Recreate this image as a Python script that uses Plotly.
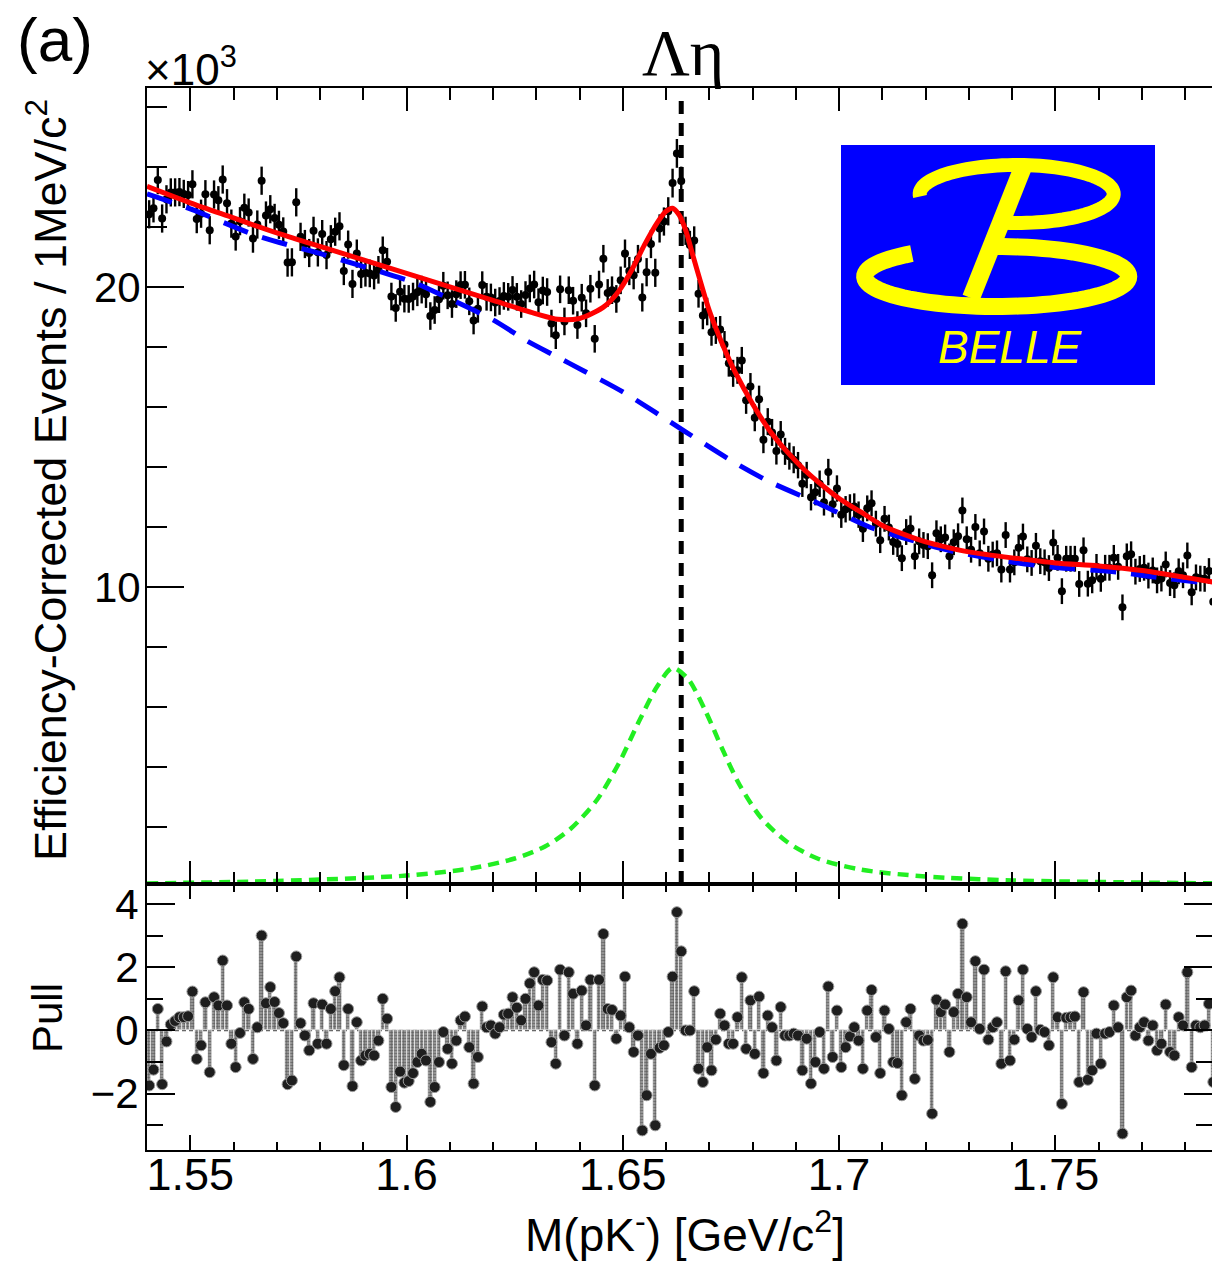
import numpy as np
import plotly.graph_objects as go

# ---------------- data ----------------
BIN_LO = 1.540      # GeV/c^2, lower edge of first bin
BIN_W = 0.001       # 1 MeV/c^2 bins

# efficiency-corrected events per bin, in units of 10^3
DATA = [
    22.42, 22.62, 23.56, 22.28, 22.92, 23.15, 23.15, 23.16, 23.10, 23.06,
    23.42, 22.26, 22.44, 23.09, 21.89, 23.08, 22.89, 23.58, 22.79, 22.11,
    21.68, 22.19, 22.64, 22.48, 21.61, 22.08, 23.54, 22.38, 22.59, 22.30,
    22.07, 21.85, 20.81, 20.82, 22.82, 21.67, 21.43, 21.13, 21.87, 21.15,
    21.76, 21.06, 21.59, 21.84, 22.02, 20.53, 21.41, 20.10, 21.11, 20.43,
    20.47, 20.45, 20.38, 20.57, 21.22, 20.84, 19.68, 19.30, 19.84, 19.61,
    19.60, 19.68, 19.82, 19.91, 19.76, 19.03, 19.23, 19.59, 20.04, 19.72,
    19.43, 19.76, 20.06, 20.07, 19.52, 18.88, 19.27, 20.06, 19.67, 19.65,
    19.48, 19.53, 19.70, 19.67, 19.90, 19.67, 19.43, 19.73, 19.95, 20.08,
    19.49, 19.88, 19.83, 18.78, 18.39, 19.92, 18.85, 19.89, 19.54, 18.73,
    19.64, 19.12, 19.94, 18.27, 20.08, 20.94, 19.80, 19.89, 19.60, 20.22,
    21.11, 20.53, 20.39, 20.93, 19.65, 20.49, 21.43, 20.47, 21.95, 22.18,
    22.52, 23.46, 24.45, 23.53, 21.87, 21.40, 21.55, 19.77, 19.05, 19.18,
    18.49, 18.55, 18.58, 18.08, 17.46, 17.12, 17.22, 17.55, 16.22, 16.68,
    15.64, 16.26, 14.91, 15.51, 15.15, 14.53, 15.08, 14.52, 14.36, 14.24,
    14.06, 13.44, 13.73, 12.99, 13.16, 13.44, 12.82, 13.83, 12.76, 13.28,
    12.41, 12.59, 12.65, 12.68, 12.41, 11.94, 12.62, 12.79, 12.11, 11.56,
    12.27, 11.98, 11.50, 11.43, 10.96, 11.83, 11.95, 11.02, 11.52, 11.40,
    11.36, 10.39, 11.79, 11.59, 11.65, 11.02, 11.49, 11.69, 12.55, 11.59,
    11.24, 12.00, 11.12, 11.85, 10.94, 11.08, 11.12, 10.58, 11.73, 10.58,
    10.82, 11.31, 11.68, 10.92, 10.80, 11.37, 10.86, 10.82, 10.63, 11.48,
    10.97, 9.86, 10.94, 10.94, 10.94, 10.10, 11.22, 10.11, 10.22, 10.67,
    10.27, 10.64, 10.64, 10.97, 10.67, 9.32, 11.02, 11.09, 10.51, 10.60,
    10.64, 10.38, 10.55, 10.22, 10.28, 10.75, 10.13, 10.06, 10.52, 10.39,
    11.05, 9.82, 10.32, 10.28, 10.27, 10.53, 9.51,
]

ERR = [
    0.47, 0.47, 0.47, 0.47, 0.47, 0.47, 0.47, 0.47, 0.47, 0.47,
    0.47, 0.47, 0.47, 0.47, 0.47, 0.47, 0.47, 0.47, 0.47, 0.47,
    0.47, 0.47, 0.47, 0.47, 0.47, 0.47, 0.47, 0.47, 0.47, 0.47,
    0.47, 0.47, 0.47, 0.47, 0.47, 0.47, 0.47, 0.47, 0.47, 0.47,
    0.47, 0.47, 0.47, 0.47, 0.47, 0.47, 0.47, 0.47, 0.47, 0.47,
    0.46, 0.46, 0.46, 0.46, 0.46, 0.46, 0.46, 0.46, 0.46, 0.46,
    0.46, 0.46, 0.46, 0.46, 0.46, 0.46, 0.46, 0.46, 0.46, 0.46,
    0.46, 0.46, 0.46, 0.46, 0.46, 0.46, 0.46, 0.46, 0.46, 0.46,
    0.46, 0.46, 0.46, 0.46, 0.46, 0.46, 0.46, 0.46, 0.46, 0.46,
    0.46, 0.46, 0.46, 0.46, 0.46, 0.46, 0.46, 0.46, 0.46, 0.46,
    0.46, 0.46, 0.46, 0.46, 0.46, 0.46, 0.46, 0.46, 0.46, 0.46,
    0.47, 0.47, 0.47, 0.47, 0.47, 0.47, 0.47, 0.47, 0.47, 0.47,
    0.47, 0.48, 0.48, 0.48, 0.47, 0.47, 0.47, 0.46, 0.46, 0.46,
    0.45, 0.45, 0.45, 0.45, 0.45, 0.45, 0.45, 0.45, 0.45, 0.45,
    0.45, 0.45, 0.45, 0.45, 0.45, 0.45, 0.45, 0.45, 0.45, 0.45,
    0.44, 0.44, 0.44, 0.44, 0.44, 0.44, 0.44, 0.44, 0.44, 0.44,
    0.44, 0.44, 0.44, 0.44, 0.44, 0.44, 0.43, 0.43, 0.43, 0.43,
    0.43, 0.43, 0.43, 0.43, 0.43, 0.43, 0.43, 0.43, 0.43, 0.43,
    0.43, 0.43, 0.43, 0.43, 0.43, 0.43, 0.43, 0.43, 0.43, 0.43,
    0.43, 0.43, 0.43, 0.43, 0.43, 0.43, 0.43, 0.43, 0.43, 0.43,
    0.43, 0.43, 0.43, 0.43, 0.43, 0.43, 0.43, 0.43, 0.43, 0.43,
    0.43, 0.43, 0.43, 0.43, 0.43, 0.43, 0.43, 0.43, 0.43, 0.43,
    0.43, 0.43, 0.43, 0.43, 0.43, 0.43, 0.43, 0.43, 0.43, 0.43,
    0.43, 0.43, 0.43, 0.43, 0.43, 0.43, 0.43, 0.43, 0.43, 0.43,
    0.43, 0.43, 0.43, 0.43, 0.43, 0.43, 0.43,
]

PULL = [
    -1.74, -1.24, 0.68, -1.70, -0.35, 0.19, 0.30, 0.42, 0.42, 0.45,
    1.23, -0.90, -0.47, 0.89, -1.32, 1.05, 0.79, 2.21, 0.79, -0.42,
    -1.16, -0.08, 0.89, 0.68, -0.90, 0.10, 3.00, 0.86, 1.37, 0.90,
    0.55, 0.23, -1.70, -1.58, 2.34, 0.23, -0.16, -0.63, 0.86, -0.42,
    0.82, -0.42, 0.68, 1.24, 1.68, -1.10, 0.68, -1.76, 0.26, -0.95,
    -0.79, -0.74, -0.79, -0.32, 1.00, 0.37, -1.79, -2.42, -1.30, -1.65,
    -1.60, -1.35, -1.00, -0.74, -0.95, -2.26, -1.79, -1.00, -0.05, -0.58,
    -1.05, -0.32, 0.32, 0.44, -0.53, -1.68, -0.84, 0.76, 0.10, 0.16,
    -0.10, 0.10, 0.50, 0.53, 1.05, 0.72, 0.32, 1.00, 1.49, 1.84,
    0.79, 1.60, 1.58, -0.37, -1.05, 1.92, -0.16, 1.84, 1.16, -0.42,
    1.26, 0.16, 1.60, -1.74, 1.60, 3.05, 0.68, 0.65, -0.26, 0.47,
    1.70, 0.10, -0.68, -0.16, -3.16, -2.05, -0.74, -3.00, -0.55, -0.47,
    -0.05, 1.70, 3.74, 2.50, 0.00, 0.00, 1.24, -1.21, -1.63, -0.53,
    -1.26, -0.29, 0.53, 0.16, -0.42, -0.42, 0.42, 1.68, -0.58, 0.95,
    -0.74, 1.07, -1.35, 0.47, 0.10, -0.95, 0.74, -0.16, -0.16, -0.10,
    -0.16, -1.26, -0.26, -1.68, -1.00, -0.05, -1.21, 1.39, -0.84, 0.63,
    -1.16, -0.53, -0.19, 0.10, -0.32, -1.21, 0.63, 1.28, -0.21, -1.35,
    0.63, 0.05, -1.00, -1.03, -2.05, 0.26, 0.68, -1.53, -0.16, -0.32,
    -0.30, -2.63, 0.97, 0.58, 0.82, -0.68, 0.58, 1.16, 3.37, 1.05,
    0.26, 2.19, 0.05, 1.92, -0.29, 0.10, 0.26, -1.05, 1.87, -0.95,
    -0.29, 0.95, 1.92, 0.05, -0.21, 1.24, 0.02, -0.05, -0.47, 1.68,
    0.42, -2.32, 0.40, 0.42, 0.44, -1.63, 1.21, -1.56, -1.26, -0.10,
    -1.05, -0.10, -0.05, 0.79, 0.10, -3.26, 1.05, 1.26, -0.16, 0.10,
    0.26, -0.32, 0.16, -0.63, -0.42, 0.82, -0.68, -0.79, 0.42, 0.16,
    1.84, -1.16, 0.16, 0.10, 0.16, 0.84, -1.63,
]

# total fit (red), background (blue dashed), signal (green dashed), x10^3
RED_X = [1.540, 1.550, 1.560, 1.570, 1.580, 1.590, 1.600, 1.610, 1.620, 1.630,
         1.635, 1.640, 1.643, 1.646, 1.649, 1.652, 1.655, 1.658, 1.660, 1.6615,
         1.663, 1.6645, 1.666, 1.668, 1.670, 1.673, 1.676, 1.680, 1.684, 1.688,
         1.692, 1.696, 1.700, 1.705, 1.710, 1.715, 1.720, 1.725, 1.730, 1.740,
         1.750, 1.760, 1.770, 1.780, 1.787]
RED_Y = [23.35, 22.80, 22.30, 21.80, 21.35, 20.90, 20.45, 20.00, 19.55, 19.10,
         18.92, 18.95, 19.12, 19.38, 19.85, 20.55, 21.40, 22.15, 22.52, 22.62,
         22.40, 21.90, 21.15, 20.15, 19.20, 18.10, 17.15, 16.10, 15.20, 14.50,
         13.90, 13.40, 12.95, 12.50, 12.05, 11.75, 11.50, 11.32, 11.17, 10.97,
         10.80, 10.70, 10.55, 10.32, 10.15]

BLUE_X = [1.540, 1.550, 1.565, 1.581, 1.597, 1.602, 1.610, 1.620, 1.6275, 1.634,
          1.641, 1.650, 1.6645, 1.676, 1.684, 1.695, 1.707, 1.715, 1.726, 1.739,
          1.750, 1.764, 1.773, 1.787]
BLUE_Y = [23.10, 22.60, 21.73, 21.07, 20.37, 20.13, 19.60, 18.90, 18.23, 17.73,
          17.20, 16.50, 15.17, 14.13, 13.50, 12.80, 12.00, 11.63, 11.20, 10.85,
          10.65, 10.50, 10.33, 10.10]

GREEN_X = [1.540, 1.570, 1.600, 1.615, 1.625, 1.632, 1.638, 1.644, 1.649, 1.654,
           1.658, 1.6615, 1.665, 1.669, 1.673, 1.677, 1.682, 1.688, 1.695, 1.705,
           1.720, 1.740, 1.787]
GREEN_Y = [0.12, 0.20, 0.38, 0.62, 0.95, 1.35, 1.95, 2.90, 4.10, 5.60,
           6.70, 7.30, 6.95, 5.90, 4.60, 3.40, 2.30, 1.50, 0.95, 0.58,
           0.35, 0.22, 0.12]

THRESH_X = [1.6635, 1.6635]          # Lambda-eta threshold
THRESH_Y = [0.1, 26.3]

X_TICKS = [1.55, 1.60, 1.65, 1.70, 1.75]
X_TICKTEXT = ["1.55", "1.6", "1.65", "1.7", "1.75"]
Y_TICKS = [10, 20]
PULL_TICKS = [-2, 0, 2, 4]
PULL_TICKTEXT = ["\u22122", "0", "2", "4"]

# ---------------- geometry ----------------
W, H = 1212, 1264
L, R, T, B = 147, 1212, 88, 1150
SPLIT = 884
X_RANGE = [1.540, 1.7862]
Y_RANGE = [0.1, 26.63]
P_RANGE = [-3.78, 4.63]
pull_frac = (B - SPLIT) / (B - T)

FONT = "Liberation Sans, Arial, Helvetica, sans-serif"


def fx(px):
    return (px - L) / (R - L)


def fy(py):
    return (B - py) / (B - T)


xc = BIN_LO + BIN_W * (np.arange(len(DATA)) + 0.5)

fig = go.Figure()

# data points
fig.add_trace(go.Scatter(
    x=xc, y=DATA, mode="markers", xaxis="x", yaxis="y",
    marker=dict(size=8, color="black"),
    error_y=dict(type="data", array=ERR, thickness=2.4, width=0, color="black"),
    showlegend=False, hoverinfo="skip"))

# threshold line
fig.add_trace(go.Scatter(
    x=THRESH_X, y=THRESH_Y, mode="lines", xaxis="x", yaxis="y",
    line=dict(color="black", width=5, dash="13px,9px"),
    showlegend=False, hoverinfo="skip"))

# background
fig.add_trace(go.Scatter(
    x=BLUE_X, y=BLUE_Y, mode="lines", xaxis="x", yaxis="y",
    line=dict(color="#0000ff", width=5, dash="26px,15px", shape="spline", smoothing=0.8),
    showlegend=False, hoverinfo="skip"))

# total fit
fig.add_trace(go.Scatter(
    x=RED_X, y=RED_Y, mode="lines", xaxis="x", yaxis="y",
    line=dict(color="#ff0000", width=5, shape="spline", smoothing=0.8),
    showlegend=False, hoverinfo="skip"))

# signal
fig.add_trace(go.Scatter(
    x=GREEN_X, y=GREEN_Y, mode="lines", xaxis="x", yaxis="y",
    line=dict(color="#22ee22", width=4.5, dash="11px,7px", shape="spline", smoothing=0.8),
    showlegend=False, hoverinfo="skip"))

# pull bars + markers
fig.add_trace(go.Bar(
    x=xc, y=PULL, width=BIN_W, xaxis="x2", yaxis="y2",
    marker=dict(color="#a8a8a8", line=dict(color="white", width=0.6),
                pattern=dict(shape=".", fgcolor="#202020", size=3, solidity=0.6)),
    showlegend=False, hoverinfo="skip"))
fig.add_trace(go.Scatter(
    x=xc, y=PULL, mode="markers", xaxis="x2", yaxis="y4",
    marker=dict(size=11, color="#1e1e1e", line=dict(color="#9a9a9a", width=1)),
    showlegend=False, hoverinfo="skip"))

tick_font = dict(family=FONT, size=42, color="black")
xtick_font = dict(family=FONT, size=45, color="black")

common_x = dict(range=X_RANGE, tickmode="array", tickvals=X_TICKS, ticktext=X_TICKTEXT,
                ticks="inside", tickwidth=2, tickcolor="black",
                showline=True, linewidth=2, linecolor="black", mirror="ticks",
                showgrid=False, zeroline=False)

layout = dict(
    width=W, height=H,
    margin=dict(l=L, r=W - R, t=T, b=H - B, pad=0),
    paper_bgcolor="white", plot_bgcolor="white",
    bargap=0,
    xaxis=dict(domain=[0, 1], anchor="y", showticklabels=False, ticklen=23,
               minor=dict(ticks="inside", ticklen=12, tickwidth=2, tickcolor="black",
                          tickmode="linear", tick0=1.54, dtick=0.01, showgrid=False),
               **common_x),
    xaxis2=dict(domain=[0, 1], anchor="y2", showticklabels=True, ticklen=15,
                tickfont=xtick_font, ticklabelstandoff=-16,
                minor=dict(ticks="inside", ticklen=8, tickwidth=2, tickcolor="black",
                           tickmode="linear", tick0=1.54, dtick=0.01, showgrid=False),
                **common_x),
    yaxis=dict(domain=[pull_frac, 1], anchor="x", range=Y_RANGE,
               tickmode="array", tickvals=Y_TICKS, ticks="inside", ticklen=37, tickwidth=2,
               tickcolor="black", showline=True, linewidth=2, linecolor="black", mirror=False,
               showgrid=False, zeroline=False, tickfont=tick_font, ticklabelstandoff=-4,
               minor=dict(ticks="inside", ticklen=20, tickwidth=2, tickcolor="black",
                          tickmode="linear", tick0=0, dtick=2, showgrid=False)),
    yaxis3=dict(overlaying="y", anchor="x", side="right", range=Y_RANGE,
                tickmode="array", tickvals=Y_TICKS, ticks="inside", ticklen=37, tickwidth=2,
                tickcolor="black", showline=False, showticklabels=False,
                showgrid=False, zeroline=False,
                minor=dict(ticks="inside", ticklen=20, tickwidth=2, tickcolor="black",
                           tickmode="linear", tick0=0, dtick=2, showgrid=False)),
    yaxis2=dict(domain=[0, pull_frac], anchor="x2", range=P_RANGE,
                tickmode="array", tickvals=PULL_TICKS, ticktext=PULL_TICKTEXT,
                ticks="inside", ticklen=28, tickwidth=2, tickcolor="black",
                showline=True, linewidth=2, linecolor="black", mirror=False,
                showgrid=False, zeroline=False, tickfont=tick_font, ticklabelstandoff=-2,
                minor=dict(ticks="inside", ticklen=16, tickwidth=2, tickcolor="black",
                           tickmode="linear", tick0=0, dtick=1, showgrid=False)),
    yaxis4=dict(overlaying="y2", anchor="x2", side="right", range=P_RANGE,
                tickmode="array", tickvals=PULL_TICKS, ticks="inside", ticklen=28, tickwidth=2,
                tickcolor="black", showline=False, showticklabels=False,
                showgrid=False, zeroline=False,
                minor=dict(ticks="inside", ticklen=16, tickwidth=2, tickcolor="black",
                           tickmode="linear", tick0=0, dtick=1, showgrid=False)),
)
fig.update_layout(**layout)

# zero line in pull panel
fig.add_shape(type="line", xref="x2", yref="y2", x0=X_RANGE[0], x1=X_RANGE[1], y0=0, y1=0,
              line=dict(color="#555555", width=1.5, dash="4px,3px"), layer="below")

# ---------------- Belle logo (decoration, pixel geometry) ----------------
def ppath(points):
    s = ""
    for i, (px, py) in enumerate(points):
        s += ("M" if i == 0 else "L") + f"{fx(px):.5f},{fy(py):.5f} "
    return s


def arc(cx, cy, rx, ry, t0, t1, n=90):
    t = np.radians(np.linspace(t0, t1, n))
    return list(zip(cx + rx * np.cos(t), cy - ry * np.sin(t)))


fig.add_shape(type="rect", xref="paper", yref="paper",
              x0=fx(841), x1=fx(1155), y0=fy(385), y1=fy(145),
              fillcolor="#0000ff", line=dict(width=0))
YEL = "#ffff00"
fig.add_shape(type="path", xref="paper", yref="paper",
              path=ppath(arc(1016.7, 194, 97, 29, 185, -100)),
              line=dict(color=YEL, width=14))
fig.add_shape(type="path", xref="paper", yref="paper",
              path=ppath(arc(996.7, 276.5, 132, 30, 130, 455)),
              line=dict(color=YEL, width=17))
fig.add_shape(type="path", xref="paper", yref="paper",
              path=ppath([(1025, 162), (971, 298)]),
              line=dict(color=YEL, width=18))

# ---------------- texts ----------------
ann = [
    dict(text="Efficiency-Corrected Events / 1MeV/c<sup>2</sup>", x=fx(47), y=fy(480),
         textangle=-90, font=dict(family=FONT, size=45, color="black")),
    dict(text="Pull", x=fx(47), y=fy(1018), textangle=-90,
         font=dict(family=FONT, size=42, color="black")),
    dict(text="M(pK<sup>-</sup>) [GeV/c<sup>2</sup>]", x=fx(685), y=fy(1232),
         font=dict(family=FONT, size=46, color="black")),
    dict(text="(a)", x=fx(55), y=fy(40), font=dict(family=FONT, size=62, color="black")),
    dict(text="\u00d710<sup>3</sup>", x=fx(143), y=fy(66), xanchor="left",
         font=dict(family=FONT, size=44, color="black")),
    dict(text="\u039b\u03b7", x=fx(683), y=fy(52),
         font=dict(family="Liberation Serif, Times New Roman, serif", size=66, color="black")),
    dict(text="BELLE", x=fx(1010), y=fy(347),
         font=dict(family=FONT, size=46, color=YEL, style="italic")),
]
for a in ann:
    a.setdefault("xanchor", "center")
    a.setdefault("yanchor", "middle")
    fig.add_annotation(xref="paper", yref="paper", showarrow=False, **a)

fig.write_html(
    "out.html",
    config={"displayModeBar": False},
    post_script="document.body.style.margin='0px';document.body.style.padding='0px';"
                "document.body.style.overflow='hidden';")
